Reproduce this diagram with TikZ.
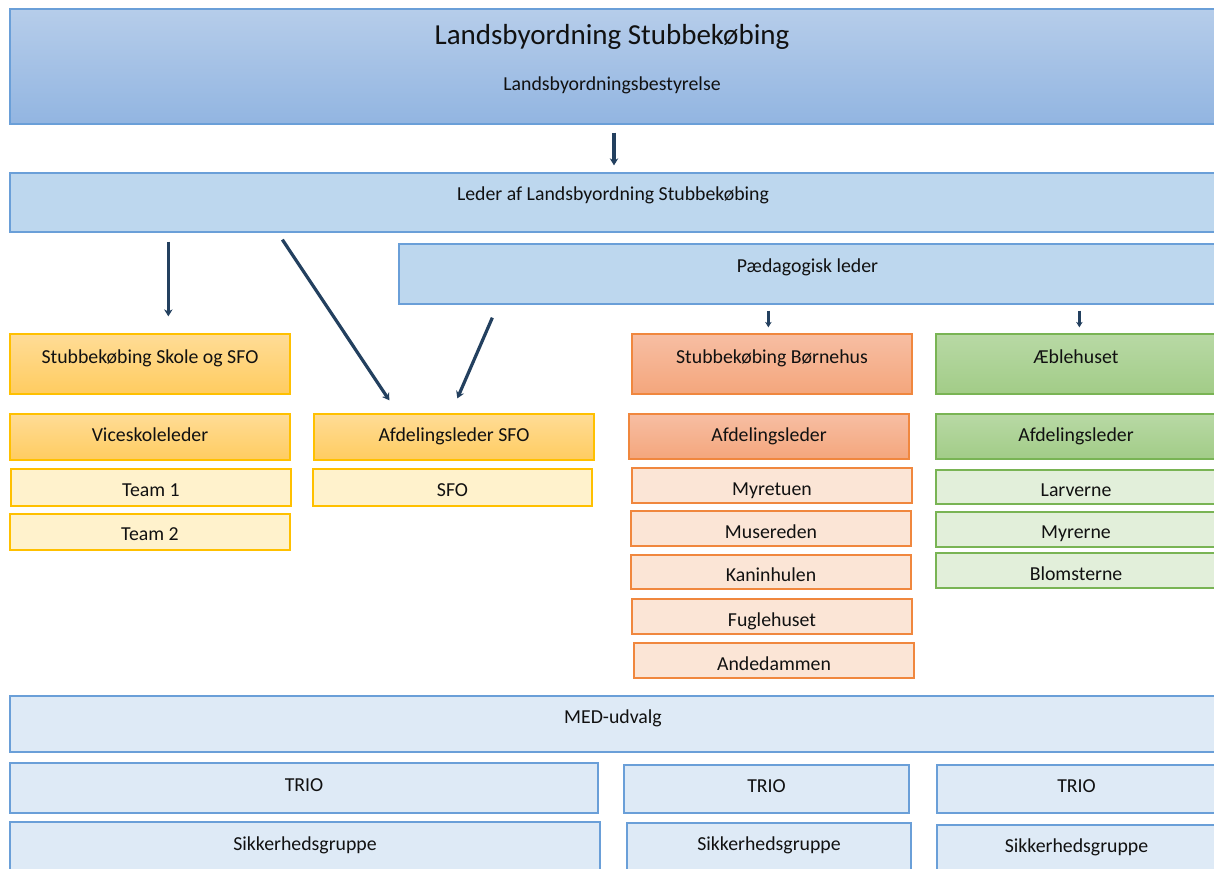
\documentclass[tikz,border=0pt]{standalone}
\usepackage{fontspec}
\setmainfont{Carlito}
\usetikzlibrary{arrows.meta}
\definecolor{txtc}{HTML}{111111}
\definecolor{arrc}{HTML}{23405F}
\definecolor{bdblue}{HTML}{6A9FD8}
\definecolor{fblue}{HTML}{BDD7EE}
\definecolor{fmed}{HTML}{DEEAF6}
\definecolor{topA}{HTML}{B6CDEA}
\definecolor{topB}{HTML}{92B5E1}
\definecolor{bdgold}{HTML}{FFC000}
\definecolor{goldA}{HTML}{FFDC96}
\definecolor{goldB}{HTML}{FFCC60}
\definecolor{goldL}{HTML}{FFF2CC}
\definecolor{bdorange}{HTML}{F0873E}
\definecolor{orA}{HTML}{F7BEA3}
\definecolor{orB}{HTML}{F4A67C}
\definecolor{orL}{HTML}{FBE5D6}
\definecolor{bdgreen}{HTML}{79B454}
\definecolor{grA}{HTML}{B8D9A5}
\definecolor{grB}{HTML}{A2CC87}
\definecolor{grL}{HTML}{E2EFDA}
\tikzset{
  base/.style={rectangle, inner sep=0pt, line width=1.3pt},
  topbox/.style={base, draw=bdblue, top color=topA, bottom color=topB},
  bluebox/.style={base, draw=bdblue, fill=fblue},
  medbox/.style={base, draw=bdblue, fill=fmed, line width=2pt},
  goldbox/.style={base, draw=bdgold, top color=goldA, bottom color=goldB},
  goldlight/.style={base, draw=bdgold, fill=goldL},
  orbox/.style={base, draw=bdorange, top color=orA, bottom color=orB},
  orlight/.style={base, draw=bdorange, fill=orL},
  grbox/.style={base, draw=bdgreen, top color=grA, bottom color=grB},
  grlight/.style={base, draw=bdgreen, fill=grL},
  txt/.style={inner sep=0pt, anchor=mid, yshift=-3pt, text=txtc, font=\fontsize{19.8}{23}\selectfont},
  arr/.style={draw=arrc, line width=3.2pt, -{Stealth[length=7pt,width=8.5pt]}},
  sarr/.style={draw=arrc, line width=2.4pt, -{Stealth[length=5.5pt,width=6.5pt]}}
}
% name, style, x1, y1, x2, y2, text y, text
\newcommand\bx[8]{%
  \node[#2, minimum width={(#5-#3)*1pt}, minimum height={(#6-#4)*1pt}] (#1) at ({(#3+#5)/2},{(#4+#6)/2}) {};
  \node[txt] (#1t) at ({(#3+#5)/2},#7) {#8};}
\begin{document}
\begin{tikzpicture}[x=1pt,y=-1pt]
\useasboundingbox (0,0) rectangle (1214,868);
\clip (0,0) rectangle (1214,868);
\fill[white] (0,0) rectangle (1214,868);
% top
\node[topbox, minimum width=1206pt, minimum height=115pt] (top) at (613,66.5) {};
\node[txt, font=\fontsize{29}{34}\selectfont] (title) at (612,39) {Landsbyordning Stubbekøbing};
\node[txt] (sub) at (612,85) {Landsbyordningsbestyrelse};
\bx{leader}{bluebox}{10}{173}{1216}{232}{195}{Leder af Landsbyordning Stubbekøbing}
\bx{ped}{bluebox}{399}{244}{1216}{304}{267}{Pædagogisk leder}
% school
\bx{sk}{goldbox}{10}{334}{290}{394}{358}{Stubbekøbing Skole og SFO}
\bx{vice}{goldbox}{10}{414}{290}{460}{436}{Viceskoleleder}
\bx{t1}{goldlight}{11}{469}{291}{506}{491}{Team 1}
\bx{t2}{goldlight}{10}{514}{290}{550}{535}{Team 2}
\bx{afs}{goldbox}{314}{414}{594}{460}{436}{Afdelingsleder SFO}
\bx{sfo}{goldlight}{313}{469}{592}{506}{491}{SFO}
% boernehus
\bx{bh}{orbox}{632}{334}{912}{394}{358}{Stubbekøbing Børnehus}
\bx{bha}{orbox}{629}{414}{909}{459}{436}{Afdelingsleder}
\bx{my}{orlight}{632}{468}{912}{503}{490}{Myretuen}
\bx{mu}{orlight}{631}{511}{911}{546}{533}{Musereden}
\bx{ka}{orlight}{631}{555}{911}{589}{576}{Kaninhulen}
\bx{fu}{orlight}{632}{599}{912}{634}{621}{Fuglehuset}
\bx{an}{orlight}{634}{643}{914}{678}{665}{Andedammen}
% aeblehuset
\bx{ae}{grbox}{936}{334}{1216}{394}{358}{Æblehuset}
\bx{aea}{grbox}{936}{414}{1216}{459}{436}{Afdelingsleder}
\bx{la}{grlight}{936}{470}{1216}{504}{491}{Larverne}
\bx{mr}{grlight}{936}{512}{1216}{547}{533}{Myrerne}
\bx{bl}{grlight}{936}{553}{1216}{588}{575}{Blomsterne}
% bottom
\bx{med}{medbox}{10}{696}{1216}{752}{718}{MED-udvalg}
\bx{tr1}{medbox}{10}{763}{598}{813}{786}{TRIO}
\bx{tr2}{medbox}{624}{765}{909}{813}{787}{TRIO}
\bx{tr3}{medbox}{937}{765}{1216}{813}{787}{TRIO}
\bx{sg1}{medbox}{10}{822}{600}{872}{845}{Sikkerhedsgruppe}
\bx{sg2}{medbox}{627}{823}{911}{872}{845}{Sikkerhedsgruppe}
\bx{sg3}{medbox}{937}{825}{1216}{872}{847}{Sikkerhedsgruppe}
% arrows
\draw[arr] ([shift={(1,8)}]top.south) -- ([shift={(1,-7)}]leader.north);
\draw[arr] ([shift={(159,9)}]leader.south west) -- ([shift={(159,-17)}]sk.north west);
\draw[arr] ([shift={(273,7)}]leader.south west) -- ([shift={(76,-13)}]afs.north west);
\draw[arr] ([shift={(94,13)}]ped.south west) -- ([shift={(144,-15)}]afs.north west);
\draw[sarr] ([shift={(370,6)}]ped.south west) -- ([shift={(137,-6)}]bh.north west);
\draw[sarr] ([shift={(681,6)}]ped.south west) -- ([shift={(144,-6)}]ae.north west);
\end{tikzpicture}
\end{document}
